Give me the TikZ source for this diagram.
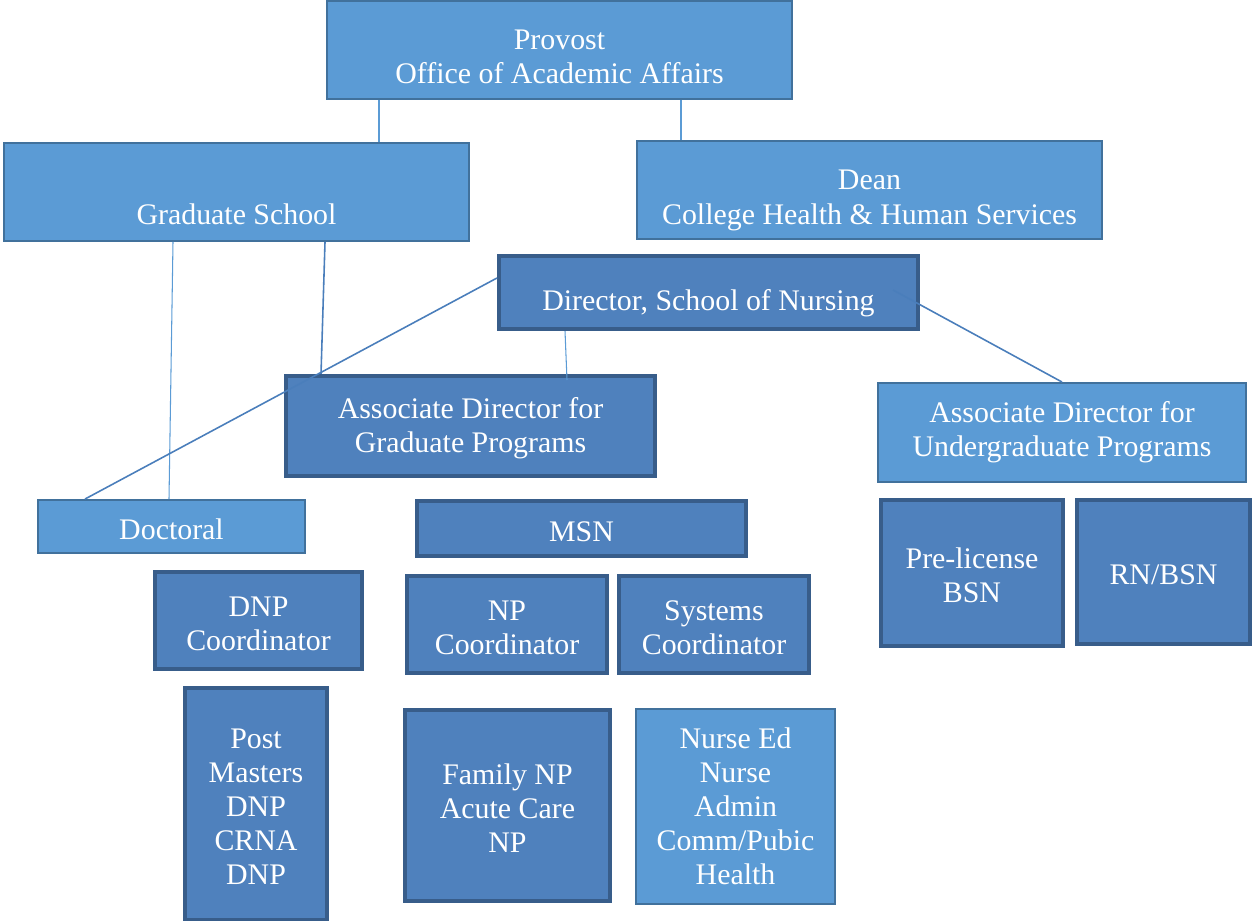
\documentclass[tikz,border=0pt]{standalone}
\usepackage{fontspec}
\setmainfont{Liberation Serif}
\definecolor{lightfill}{HTML}{5B9BD5}
\definecolor{lightline}{HTML}{41719C}
\definecolor{darkfill}{HTML}{4F81BD}
\definecolor{darkline}{HTML}{385D8A}
\definecolor{linkblue}{HTML}{4A7EBB}
\newcommand{\topgap}[1]{\rule{0pt}{#1}}

\begin{document}
\begin{tikzpicture}[x=0.2mm, y=-0.2mm,
  unit/.style={rectangle,align=center,inner sep=0pt,text=white,font=\fontsize{17}{19.4}\selectfont},
  lightbox/.style={unit,fill=lightfill,draw=lightline,line width=1.1pt},
  darkbox/.style={unit,fill=darkfill,draw=darkline,line width=2.3pt},
  thinlink/.style={draw=lightfill,line width=0.6pt},
  boldlink/.style={draw=linkblue,line width=0.9pt}]
\useasboundingbox (0,0) rectangle (1252,921);
% top level
\node[lightbox,minimum width=93mm,minimum height=19.6mm] (prov) at (559.5,50) {\topgap{19pt}Provost\\Office of Academic Affairs};
\node[lightbox,minimum width=93mm,minimum height=19.6mm] (grad) at (236.5,192) {\topgap{18.2pt}\\Graduate School};
\node[lightbox,minimum width=93mm,minimum height=19.6mm] (dean) at (869.5,190) {\topgap{23pt}Dean\\College Health \& Human Services};
% school of nursing
\node[darkbox,minimum width=83.8mm,minimum height=14.6mm] (dir) at (708.5,292.5) {\topgap{24.5pt}Director, School of Nursing};
\node[darkbox,minimum width=73.8mm,minimum height=20mm] (agr) at (470.5,426) {\topgap{14.5pt}Associate Director for\\Graduate Programs};
\node[lightbox,minimum width=73.6mm,minimum height=19.8mm] (ugr) at (1062,432.5) {Associate Director for\\Undergraduate Programs};
% programs
\node[lightbox,minimum width=53.4mm,minimum height=10.6mm] (doc) at (171.5,526.5) {\topgap{14.5pt}Doctoral};
\node[darkbox,minimum width=65.8mm,minimum height=11mm] (msn) at (581.5,528.5) {\topgap{15pt}MSN};
\node[darkbox,minimum width=36.4mm,minimum height=29.2mm] (pre) at (972,573) {\topgap{14.5pt}Pre-license\\BSN};
\node[darkbox,minimum width=34.6mm,minimum height=28.8mm] (rn) at (1163.5,572) {\topgap{14.5pt}RN/BSN};
% coordinators
\node[darkbox,minimum width=41.4mm,minimum height=19.4mm] (dnpc) at (258.5,620.5) {\topgap{14.5pt}DNP\\Coordinator};
\node[darkbox,minimum width=40mm,minimum height=19.4mm] (npc) at (507,624.5) {\topgap{14.5pt}NP\\Coordinator};
\node[darkbox,minimum width=38mm,minimum height=19.4mm] (sys) at (714,624.5) {\topgap{14.5pt}Systems\\Coordinator};
% tracks
\node[darkbox,minimum width=28.4mm,minimum height=46.4mm] (post) at (256,804) {\topgap{14.5pt}Post\\Masters\\DNP\\CRNA\\DNP};
\node[darkbox,minimum width=41mm,minimum height=38.2mm] (fam) at (507.5,805.5) {\topgap{14.5pt}Family NP\\Acute Care\\NP};
\node[lightbox,minimum width=39.8mm,minimum height=39mm] (ned) at (735.5,806.5) {Nurse Ed\\Nurse\\Admin\\Comm/Pubic\\Health};
% connectors
\coordinate (dirR) at (893,290);
\draw[thinlink] (379,0 |- prov.south) -- (379,0 |- grad.north);
\draw[thinlink] (681,0 |- prov.south) -- (681,0 |- dean.north);
\draw[thinlink] (173,0 |- grad.south) -- (169,0 |- doc.north);
\draw[boldlink] (325,0 |- grad.south) -- (321,0 |- agr.north);
\draw[boldlink] (dir.west |- 0,278) -- (85,0 |- doc.north);
\draw[thinlink] (565,0 |- dir.south) -- (567,380);
\draw[boldlink] (dirR) -- (ugr.north);
\end{tikzpicture}
\end{document}
